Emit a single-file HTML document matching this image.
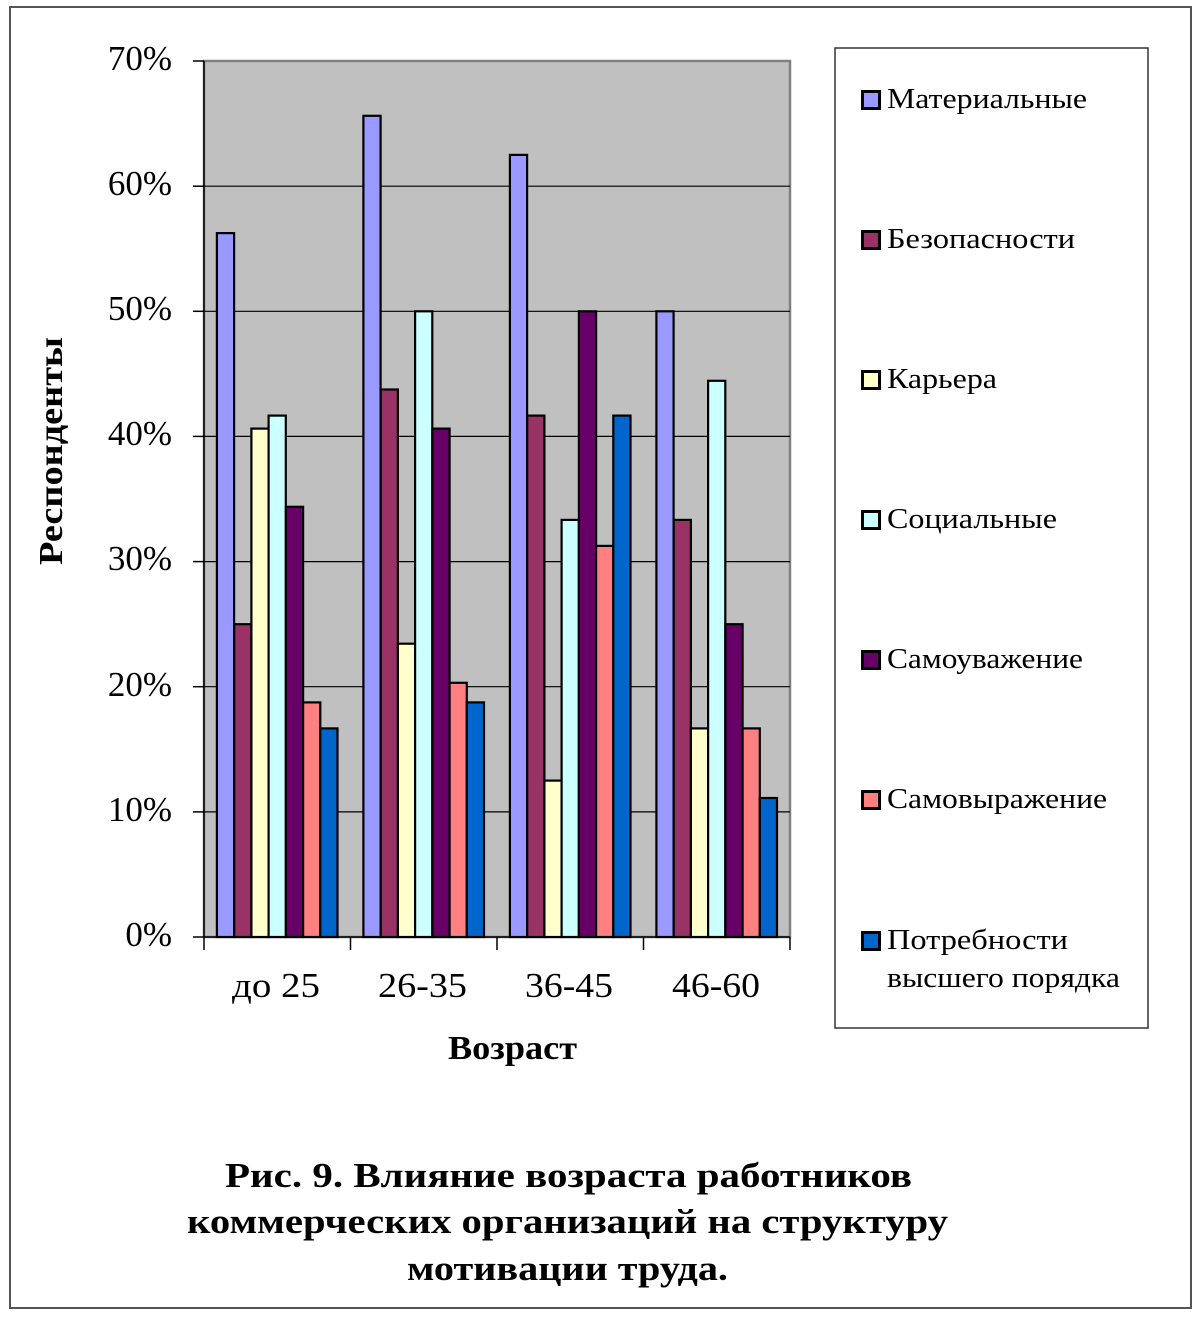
<!DOCTYPE html>
<html>
<head>
<meta charset="utf-8">
<style>
  html, body { margin: 0; padding: 0; background: #ffffff; }
  svg { display: block; }
  text { font-family: "Liberation Serif", "DejaVu Serif", serif; fill: #000; }
  .tick { font-size: 35px; }
  .leg { font-size: 29px; }
  .bold { font-weight: bold; }
</style>
</head>
<body>
<svg width="1202" height="1319" viewBox="0 0 1202 1319" xmlns="http://www.w3.org/2000/svg">
  <rect x="0" y="0" width="1202" height="1319" fill="#ffffff"/>
  <!-- outer frame -->
  <rect x="10" y="7" width="1181" height="1301" fill="none" stroke="#555" stroke-width="2"/>

  <!-- plot area -->
  <rect x="204" y="61" width="586" height="876" fill="#C0C0C0" stroke="#808080" stroke-width="2.5"/>

  <!-- gridlines -->
  <g stroke="#000" stroke-width="1.2">
    <line x1="204" y1="811.9" x2="790" y2="811.9"/>
    <line x1="204" y1="686.7" x2="790" y2="686.7"/>
    <line x1="204" y1="561.6" x2="790" y2="561.6"/>
    <line x1="204" y1="436.4" x2="790" y2="436.4"/>
    <line x1="204" y1="311.3" x2="790" y2="311.3"/>
    <line x1="204" y1="186.2" x2="790" y2="186.2"/>
  </g>

  <!-- bars -->
  <g stroke="#000" stroke-width="2.2">
    <!-- до 25 -->
    <rect x="216.9" y="233.1" width="17.2" height="703.9" fill="#9999FF"/>
    <rect x="234.2" y="624.2" width="17.2" height="312.8" fill="#993366"/>
    <rect x="251.4" y="428.6" width="17.2" height="508.4" fill="#FFFFCC"/>
    <rect x="268.6" y="415.6" width="17.2" height="521.4" fill="#CCFFFF"/>
    <rect x="285.9" y="506.8" width="17.2" height="430.2" fill="#660066"/>
    <rect x="303.1" y="702.4" width="17.2" height="234.6" fill="#FF8080"/>
    <rect x="320.3" y="728.4" width="17.2" height="208.6" fill="#0066CC"/>
    <!-- 26-35 -->
    <rect x="363.4" y="115.8" width="17.2" height="821.2" fill="#9999FF"/>
    <rect x="380.7" y="389.5" width="17.2" height="547.5" fill="#993366"/>
    <rect x="397.9" y="643.7" width="17.2" height="293.3" fill="#FFFFCC"/>
    <rect x="415.1" y="311.3" width="17.2" height="625.7" fill="#CCFFFF"/>
    <rect x="432.4" y="428.6" width="17.2" height="508.4" fill="#660066"/>
    <rect x="449.6" y="682.8" width="17.2" height="254.2" fill="#FF8080"/>
    <rect x="466.8" y="702.4" width="17.2" height="234.6" fill="#0066CC"/>
    <!-- 36-45 -->
    <rect x="509.9" y="154.9" width="17.2" height="782.1" fill="#9999FF"/>
    <rect x="527.2" y="415.6" width="17.2" height="521.4" fill="#993366"/>
    <rect x="544.4" y="780.6" width="17.2" height="156.4" fill="#FFFFCC"/>
    <rect x="561.6" y="519.9" width="17.2" height="417.1" fill="#CCFFFF"/>
    <rect x="578.9" y="311.3" width="17.2" height="625.7" fill="#660066"/>
    <rect x="596.1" y="545.9" width="17.2" height="391.1" fill="#FF8080"/>
    <rect x="613.3" y="415.6" width="17.2" height="521.4" fill="#0066CC"/>
    <!-- 46-60 -->
    <rect x="656.4" y="311.3" width="17.2" height="625.7" fill="#9999FF"/>
    <rect x="673.7" y="519.9" width="17.2" height="417.1" fill="#993366"/>
    <rect x="690.9" y="728.4" width="17.2" height="208.6" fill="#FFFFCC"/>
    <rect x="708.1" y="380.8" width="17.2" height="556.2" fill="#CCFFFF"/>
    <rect x="725.4" y="624.2" width="17.2" height="312.8" fill="#660066"/>
    <rect x="742.6" y="728.4" width="17.2" height="208.6" fill="#FF8080"/>
    <rect x="759.8" y="798.0" width="17.2" height="139.0" fill="#0066CC"/>
  </g>

  <!-- axes -->
  <g stroke="#000" stroke-width="1.5">
    <line x1="204" y1="61" x2="204" y2="937"/>
    <line x1="193" y1="937" x2="790" y2="937"/>
    <!-- y ticks -->
    <line x1="193" y1="61" x2="204" y2="61"/>
    <line x1="193" y1="186.2" x2="204" y2="186.2"/>
    <line x1="193" y1="311.3" x2="204" y2="311.3"/>
    <line x1="193" y1="436.4" x2="204" y2="436.4"/>
    <line x1="193" y1="561.6" x2="204" y2="561.6"/>
    <line x1="193" y1="686.7" x2="204" y2="686.7"/>
    <line x1="193" y1="811.9" x2="204" y2="811.9"/>
    <!-- x ticks -->
    <line x1="204" y1="937" x2="204" y2="950"/>
    <line x1="350.5" y1="937" x2="350.5" y2="950"/>
    <line x1="497" y1="937" x2="497" y2="950"/>
    <line x1="643.5" y1="937" x2="643.5" y2="950"/>
    <line x1="790" y1="937" x2="790" y2="950"/>
  </g>

  <!-- y tick labels -->
  <g class="tick" text-anchor="end">
    <text x="172" y="70">70%</text>
    <text x="172" y="195">60%</text>
    <text x="172" y="320">50%</text>
    <text x="172" y="445">40%</text>
    <text x="172" y="570">30%</text>
    <text x="172" y="696">20%</text>
    <text x="172" y="821">10%</text>
    <text x="172" y="946">0%</text>
  </g>

  <!-- x category labels -->
  <g class="tick">
    <text x="232" y="997" textLength="88" lengthAdjust="spacingAndGlyphs">до 25</text>
    <text x="378" y="997" textLength="89" lengthAdjust="spacingAndGlyphs">26-35</text>
    <text x="525" y="997" textLength="88" lengthAdjust="spacingAndGlyphs">36-45</text>
    <text x="672" y="997" textLength="88" lengthAdjust="spacingAndGlyphs">46-60</text>
  </g>

  <!-- axis titles -->
  <text class="bold" x="448" y="1059" font-size="34" textLength="129" lengthAdjust="spacingAndGlyphs">Возраст</text>
  <text class="bold" font-size="34" transform="translate(62,565) rotate(-90)" x="0" y="0" textLength="228" lengthAdjust="spacingAndGlyphs">Респонденты</text>

  <!-- legend -->
  <rect x="835" y="48" width="313" height="980" fill="#fff" stroke="#333" stroke-width="1.5"/>
  <g stroke="#000" stroke-width="3">
    <rect x="862.5" y="91.5" width="17" height="17" fill="#9999FF"/>
    <rect x="862.5" y="231.5" width="17" height="17" fill="#993366"/>
    <rect x="862.5" y="371.5" width="17" height="17" fill="#FFFFCC"/>
    <rect x="862.5" y="511.5" width="17" height="17" fill="#CCFFFF"/>
    <rect x="862.5" y="651.5" width="17" height="17" fill="#660066"/>
    <rect x="862.5" y="791.5" width="17" height="17" fill="#FF8080"/>
    <rect x="862.5" y="932.5" width="17" height="17" fill="#0066CC"/>
  </g>
  <g class="leg">
    <text x="887" y="108" textLength="200" lengthAdjust="spacingAndGlyphs">Материальные</text>
    <text x="887" y="248" textLength="188" lengthAdjust="spacingAndGlyphs">Безопасности</text>
    <text x="887" y="388" textLength="110" lengthAdjust="spacingAndGlyphs">Карьера</text>
    <text x="887" y="528" textLength="170" lengthAdjust="spacingAndGlyphs">Социальные</text>
    <text x="887" y="668" textLength="196" lengthAdjust="spacingAndGlyphs">Самоуважение</text>
    <text x="887" y="808" textLength="220" lengthAdjust="spacingAndGlyphs">Самовыражение</text>
    <text x="887" y="949" textLength="181" lengthAdjust="spacingAndGlyphs">Потребности</text>
    <text x="887" y="987" textLength="233" lengthAdjust="spacingAndGlyphs">высшего порядка</text>
  </g>

  <!-- caption -->
  <g class="bold" font-size="35">
    <text x="225" y="1187" textLength="687" lengthAdjust="spacingAndGlyphs">Рис. 9. Влияние возраста работников</text>
    <text x="187" y="1233" textLength="761" lengthAdjust="spacingAndGlyphs">коммерческих организаций на структуру</text>
    <text x="407" y="1280" textLength="321" lengthAdjust="spacingAndGlyphs">мотивации труда.</text>
  </g>
</svg>
</body>
</html>
